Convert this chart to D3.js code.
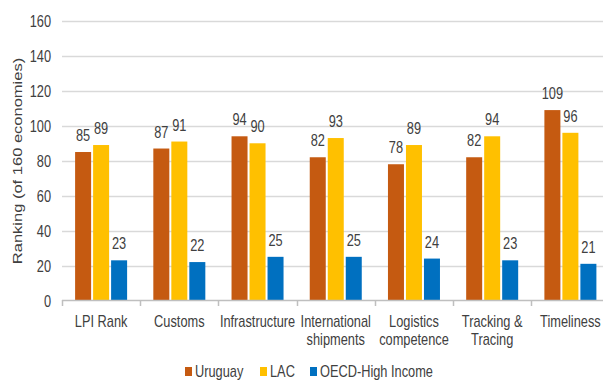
<!DOCTYPE html>
<html><head><meta charset="utf-8">
<script src="https://cdn.jsdelivr.net/npm/d3@7/dist/d3.min.js"></script>
<style>
html,body{margin:0;padding:0;background:#fff;overflow:hidden}
svg{display:block}
text{font-family:"Liberation Sans",Arial,sans-serif;fill:#404040}
</style></head>
<body><svg id="c" width="603" height="381"></svg>
<script>
const categories = ["LPI Rank","Customs","Infrastructure","International\nshipments","Logistics\ncompetence","Tracking &\nTracing","Timeliness"];
const seriesNames = ["Uruguay","LAC","OECD-High Income"];
const uruguay = [85,87,94,82,78,82,109];
const lac = [89,91,90,93,89,94,96];
const oecd = [23,22,25,25,24,23,21];
const yTicks = [0,20,40,60,80,100,120,140,160];
const colors = ["#C55A11","#FFC000","#0070C0"];
const values = [uruguay, lac, oecd];

const svg = d3.select("#c");
const SX = 0.8; // horizontal text compression

const x = d3.scaleBand().domain(categories).range([62, 609.5]).padding(0);
const xs = d3.scaleBand().domain(seriesNames).range([0, x.bandwidth()]).paddingInner(0.111).paddingOuter(0.728);
const y = d3.scaleLinear().domain([0,160]).range([300.5, 21]);

// gridlines
svg.append("g").selectAll("line").data(yTicks.filter(d=>d>0)).join("line")
  .attr("x1",62).attr("x2",609).attr("y1",d=>Math.round(y(d))+0.5).attr("y2",d=>Math.round(y(d))+0.5)
  .attr("stroke","#D9D9D9").attr("stroke-width",1.5);

// y tick labels
svg.append("g").selectAll("text").data(yTicks).join("text")
  .attr("transform",d=>`translate(51,${y(d)+6}) scale(${SX},1)`)
  .attr("text-anchor","end").attr("font-size",16).text(d=>d);

// y title
svg.append("text")
  .attr("transform",`translate(22,161) scale(${SX},1) rotate(-90)`)
  .attr("text-anchor","middle").attr("font-size",16.5).text("Ranking (of 160 economies)");

// bars
seriesNames.forEach((s,si)=>{
  const g = svg.append("g");
  g.selectAll("rect").data(categories).join("rect")
    .attr("x",(c)=>x(c)+xs(s)).attr("width",xs.bandwidth())
    .attr("y",(c,i)=>y(values[si][i])).attr("height",(c,i)=>y(0)-y(values[si][i]))
    .attr("fill",colors[si]);
  g.selectAll("text").data(categories).join("text")
    .attr("transform",(c,i)=>`translate(${x(c)+xs(s)+xs.bandwidth()/2},${y(values[si][i])-11}) scale(${SX},1)`)
    .attr("text-anchor","middle").attr("font-size",16).text((c,i)=>values[si][i]);
});

// x axis line and ticks
svg.append("line").attr("x1",62).attr("x2",609).attr("y1",300.5).attr("y2",300.5).attr("stroke","#BFBFBF").attr("stroke-width",1.5);
const bounds = categories.map(c=>x(c)).concat([x.range()[1]]);
svg.append("g").selectAll("line").data(bounds).join("line")
  .attr("x1",d=>Math.round(d)+0.5).attr("x2",d=>Math.round(d)+0.5).attr("y1",300).attr("y2",306)
  .attr("stroke","#BFBFBF").attr("stroke-width",1.5);

// category labels
const cl = svg.append("g").selectAll("g").data(categories).join("g")
  .attr("transform",c=>`translate(${x(c)+x.bandwidth()/2},327) scale(${SX},1)`);
cl.each(function(c){
  const lines = c.split("\n");
  const t = d3.select(this).append("text").attr("text-anchor","middle").attr("font-size",16);
  lines.forEach((l,i)=>t.append("tspan").attr("x",0).attr("y",i*18).text(l));
});

// legend
const legendX = [185, 260, 310];
const lg = svg.append("g").selectAll("g").data(seriesNames).join("g")
  .attr("transform",(d,i)=>`translate(${legendX[i]},367)`);
lg.append("rect").attr("x",0).attr("y",0).attr("width",7).attr("height",9).attr("fill",(d,i)=>colors[i]);
lg.append("text").attr("transform",`translate(10,10) scale(${SX},1)`).attr("font-size",16).text(d=>d);
</script></body></html>
